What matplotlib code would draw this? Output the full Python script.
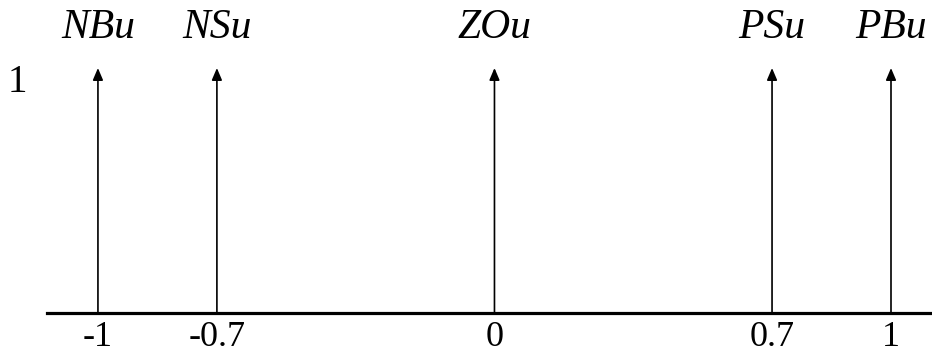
import matplotlib
matplotlib.use('Agg')
import matplotlib.pyplot as plt

# singleton membership functions of the output u
labels = ['NBu', 'NSu', 'ZOu', 'PSu', 'PBu']
centers = [-1, -0.7, 0, 0.7, 1]
tick_labels = ['-1', '-0.7', '0', '0.7', '1']
heights = [1, 1, 1, 1, 1]

plt.rcParams['font.family'] = ['Liberation Serif', 'DejaVu Serif']

fig = plt.figure(figsize=(9.32, 3.62), dpi=100)
ax = fig.add_axes([0, 0, 1, 1])
ax.set_xlim(-1.247, 1.1034)
ax.set_ylim(-0.2, 1.2776)

for x, h, name in zip(centers, heights, labels):
    ax.annotate('', xy=(x, h), xytext=(x, 0),
                arrowprops=dict(arrowstyle='-|>,head_length=0.4,head_width=0.17',
                                color='black', lw=1.2, mutation_scale=18,
                                shrinkA=0, shrinkB=0))
    ax.text(x, h + 0.122, name, ha='center', va='baseline',
            fontsize=30, style='italic')

# membership value 1 on the left
ax.text(-1.204, 0.902, '1', ha='center', va='baseline', fontsize=28)

# horizontal axis
for side in ['left', 'right', 'top']:
    ax.spines[side].set_visible(False)
ax.spines['bottom'].set_position(('data', 0))
ax.spines['bottom'].set_bounds(-1.129, 1.1034)
ax.spines['bottom'].set_linewidth(2.3)
ax.set_xticks(centers, tick_labels)
ax.tick_params(axis='x', length=0, pad=6, labelsize=26)
ax.set_yticks([])

fig.savefig('out.png', dpi=100)
